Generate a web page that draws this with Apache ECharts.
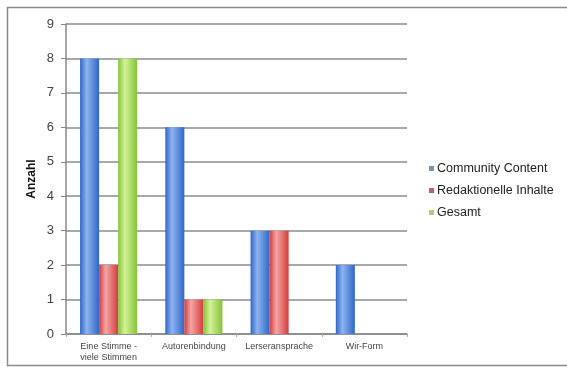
<!DOCTYPE html>
<html>
<head>
<meta charset="utf-8">
<script src="https://cdn.jsdelivr.net/npm/echarts@6/dist/echarts.min.js"></script>
<style>
  html, body { margin: 0; padding: 0; background: #fff; }
  #chart { width: 567px; height: 367px; }
</style>
</head>
<body>
<div id="chart"></div>
<script>
// Categories and counts per source
const categories = ['Eine Stimme -\nviele Stimmen', 'Autorenbindung', 'Lerseransprache', 'Wir-Form'];
const communityContent = [8, 6, 3, 2];
const redaktionelleInhalte = [2, 1, 3, null];
const gesamt = [8, 1, null, null];
const yTicks = [0, 1, 2, 3, 4, 5, 6, 7, 8, 9];

function barGradient(edge, mid) {
  return new echarts.graphic.LinearGradient(0, 0, 1, 0, [
    { offset: 0, color: edge },
    { offset: 0.35, color: mid },
    { offset: 1, color: edge }
  ]);
}

const chart = echarts.init(document.getElementById('chart'));
chart.setOption({
  animation: false,
  backgroundColor: '#fff',
  graphic: [{
    type: 'rect',
    shape: { x: 7.5, y: 7.5, width: 570, height: 358 },
    style: { fill: 'none', stroke: '#8a8a8a', lineWidth: 1.5 },
    silent: true
  }],
  grid: { left: 66, right: 160, top: 24, bottom: 33 },
  legend: {
    orient: 'vertical',
    left: 424,
    top: 157,
    itemWidth: 5,
    itemHeight: 5,
    itemGap: 9,
    icon: 'rect',
    textStyle: { fontFamily: 'Liberation Sans', fontSize: 12.5, color: '#222', padding: [0, 0, 0, -2] },
    data: [
      { name: 'Community Content', itemStyle: { color: '#8090a8' } },
      { name: 'Redaktionelle Inhalte', itemStyle: { color: '#c06070' } },
      { name: 'Gesamt', itemStyle: { color: '#b8cc70' } }
    ]
  },
  xAxis: {
    type: 'category',
    data: categories,
    axisLine: { lineStyle: { color: '#888', width: 1.5 } },
    axisTick: { show: true, alignWithLabel: false, lineStyle: { color: '#aaa' }, length: 3 },
    axisLabel: {
      fontFamily: 'Liberation Sans', fontSize: 9, color: '#444',
      lineHeight: 11, margin: 7, interval: 0
    }
  },
  yAxis: {
    type: 'value',
    min: 0, max: 9, interval: 1,
    name: 'Anzahl',
    nameLocation: 'middle',
    nameGap: 28,
    nameMoveOverlap: false,
    nameRotate: 90,
    nameTextStyle: { fontFamily: 'Liberation Sans', fontSize: 12, fontWeight: 'bold', color: '#111' },
    axisLine: { show: true, lineStyle: { color: '#888', width: 1.5 } },
    axisTick: { show: true, inside: false, length: 5, lineStyle: { color: '#888' } },
    axisLabel: {
      fontFamily: 'Liberation Sans', fontSize: 13, color: '#444', margin: 12,
      formatter: v => yTicks.includes(v) ? String(v) : ''
    },
    splitLine: { lineStyle: { color: '#8c8c8c', width: 1.5 } }
  },
  series: [
    {
      name: 'Community Content', type: 'bar', data: communityContent,
      barGap: '0%', barCategoryGap: '33%',
      itemStyle: { color: barGradient('#2f66c8', '#8db4ef') }
    },
    {
      name: 'Redaktionelle Inhalte', type: 'bar', data: redaktionelleInhalte,
      barGap: '0%',
      itemStyle: { color: barGradient('#d43c3c', '#f4a5a5') }
    },
    {
      name: 'Gesamt', type: 'bar', data: gesamt,
      barGap: '0%',
      itemStyle: { color: barGradient('#86c23a', '#d2f397') }
    }
  ]
});
</script>
</body>
</html>
